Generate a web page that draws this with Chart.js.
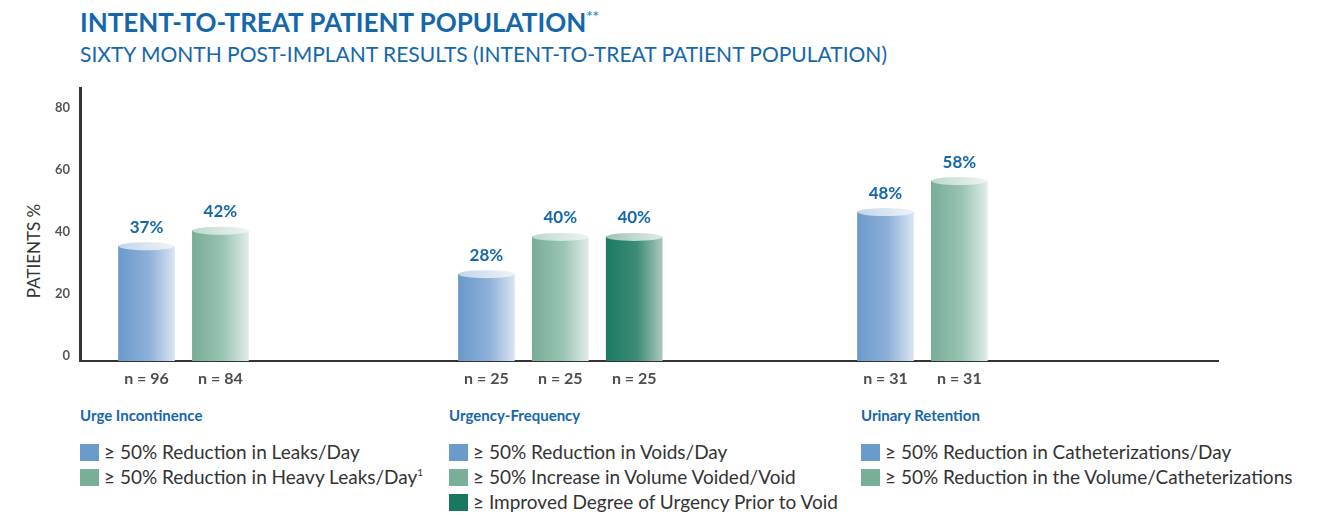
<!DOCTYPE html>
<html>
<head>
<meta charset="utf-8">
<script src="https://cdn.jsdelivr.net/npm/chart.js@4.4.1/dist/chart.umd.min.js"></script>
<style>
  body { margin: 0; background: #fff; font-family: Lato, sans-serif; }
  #wrap { position: relative; width: 1333px; height: 515px; overflow: hidden; }
  #chartBox { position: absolute; left: 0; top: 0; width: 1333px; height: 400px; }
  .title { position: absolute; left: 80px; top: 6px; font-weight: 700; font-size: 26px; color: #1467ab; white-space: nowrap; }
  .title span { font-size: 15px; color: #4f95d0; vertical-align: 10px; font-weight: 700; }
  .subtitle { position: absolute; left: 80px; top: 41px; font-size: 21px; color: #1467ab; white-space: nowrap; }
  .ytitle { position: absolute; left: 33px; top: 251px; transform: translate(-50%, -50%) rotate(-90deg); font-size: 17px; color: #333; white-space: nowrap; }
  .group { position: absolute; top: 404px; }
  .group .head { height: 22px; line-height: 22px; font-size: 15px; font-weight: 700; color: #1467ab; margin-bottom: 15px; white-space: nowrap; }
  .group .row { height: 25px; line-height: 22px; font-size: 19px; color: #333; white-space: nowrap; }
  .group .row sup { font-size: 10px; line-height: 0; vertical-align: 8px; }
  .group .sw { display: inline-block; width: 19px; height: 17px; vertical-align: -2px; margin-right: 5px; }
</style>
</head>
<body>
<div id="wrap">
  <div class="title">INTENT-TO-TREAT PATIENT POPULATION<span>**</span></div>
  <div class="subtitle">SIXTY MONTH POST-IMPLANT RESULTS (INTENT-TO-TREAT PATIENT POPULATION)</div>
  <div class="ytitle">PATIENTS %</div>
  <div id="chartBox"><canvas id="chart"></canvas></div>
  <div id="legends"></div>
</div>
<script>
// data
const groups = ['Urge Incontinence', 'Urgency-Frequency', 'Urinary Retention'];
const measures = [
  '≥ 50% Reduction in Leaks/Day',
  '≥ 50% Reduction in Heavy Leaks/Day',
  '≥ 50% Reduction in Voids/Day',
  '≥ 50% Increase in Volume Voided/Void',
  '≥ Improved Degree of Urgency Prior to Void',
  '≥ 50% Reduction in Catheterizations/Day',
  '≥ 50% Reduction in the Volume/Catheterizations'
];
const groupOf = [0, 0, 1, 1, 1, 2, 2];
const values = [37, 42, 28, 40, 40, 48, 58];
const nLabels = ['n = 96', 'n = 84', 'n = 25', 'n = 25', 'n = 25', 'n = 31', 'n = 31'];
const colorKey = ['blue', 'green', 'blue', 'green', 'dark', 'blue', 'green'];
const yTicks = [0, 20, 40, 60, 80];

// layout (not data)
const SLOTS = 77;
const barSlots = [4, 9, 27, 32, 37, 54, 59];
const groupLeft = [80, 449, 861];

const palette = {
  blue:  { swatch: '#6b9bcb', stops: ['#6a9acb', '#8eb0d9', '#d9e4f2'], cap: ['#c3d5ec', '#eef3f9'] },
  green: { swatch: '#79ae99', stops: ['#77ad97', '#9ac4b3', '#e0ece7'], cap: ['#bcd9cd', '#eef5f2'] },
  dark:  { swatch: '#1a7760', stops: ['#1c7a62', '#3d8c77', '#a9c7bd'], cap: ['#9fc2b6', '#e1ece8'] }
};

const labels = new Array(SLOTS).fill('');
const slotData = new Array(SLOTS).fill(null);
const barOfSlot = {};
barSlots.forEach((s, i) => { labels[s] = nLabels[i]; slotData[s] = values[i]; barOfSlot[s] = i; });

// legend html
const legends = document.getElementById('legends');
groups.forEach((g, gi) => {
  const div = document.createElement('div');
  div.className = 'group';
  div.style.left = groupLeft[gi] + 'px';
  let html = '<div class="head">' + g + '</div>';
  measures.forEach((m, i) => {
    if (groupOf[i] !== gi) return;
    const sup = (i === 1) ? '<sup>1</sup>' : '';
    html += '<div class="row"><span class="sw" style="background:' + palette[colorKey[i]].swatch + '"></span>' + m + sup + '</div>';
  });
  div.innerHTML = html;
  legends.appendChild(div);
});

const BAR_W = 56;

function barFill(ctx) {
  const chart = ctx.chart;
  const bi = barOfSlot[ctx.dataIndex];
  if (bi === undefined) return 'rgba(0,0,0,0)';
  const p = palette[colorKey[bi]];
  const xs = chart.scales.x;
  if (!chart.chartArea || !xs) return p.swatch;
  const cx = xs.getPixelForValue(ctx.dataIndex);
  const g = chart.ctx.createLinearGradient(cx - BAR_W / 2, 0, cx + BAR_W / 2, 0);
  g.addColorStop(0, p.stops[0]);
  g.addColorStop(0.55, p.stops[1]);
  g.addColorStop(1, p.stops[2]);
  return g;
}

const cylinderTops = {
  id: 'cylinderTops',
  afterDatasetsDraw(chart) {
    const c = chart.ctx;
    const meta = chart.getDatasetMeta(0);
    meta.data.forEach((el, idx) => {
      const bi = barOfSlot[idx];
      if (bi === undefined) return;
      const p = palette[colorKey[bi]];
      const rx = el.width / 2, ry = 4;
      const g = c.createLinearGradient(el.x - rx, 0, el.x + rx, 0);
      g.addColorStop(0, p.cap[0]);
      g.addColorStop(1, p.cap[1]);
      c.save();
      c.beginPath();
      c.ellipse(el.x, el.y, rx, ry, 0, 0, Math.PI * 2);
      c.fillStyle = g;
      c.fill();
      c.font = 'bold 17px Lato';
      c.fillStyle = '#1467ab';
      c.textAlign = 'center';
      c.textBaseline = 'middle';
      c.fillText(values[bi] + '%', el.x, el.y - 19);
      c.restore();
    });
  }
};

new Chart(document.getElementById('chart'), {
  type: 'bar',
  data: {
    labels: labels,
    datasets: [{
      data: slotData,
      backgroundColor: barFill,
      borderWidth: 0,
      barThickness: BAR_W
    }]
  },
  options: {
    responsive: true,
    maintainAspectRatio: false,
    animation: false,
    layout: { padding: { left: 20, right: 115, top: 88, bottom: 9 } },
    plugins: { legend: { display: false }, tooltip: { enabled: false } },
    scales: {
      x: {
        grid: { display: false, drawTicks: false },
        border: { color: '#333', width: 2 },
        ticks: { autoSkip: false, maxRotation: 0, padding: 8, color: '#4d4d4d',
                 font: { family: 'Lato', weight: 'bold', size: 16 } },
        afterFit: s => { s.height = 30; }
      },
      y: {
        min: 0, max: 88,
        afterBuildTicks: s => { s.ticks = yTicks.map(v => ({ value: v })); },
        grid: { display: false, drawTicks: false },
        border: { color: '#333', width: 3 },
        ticks: { padding: 10, labelOffset: -5, color: '#555',
                 font: { family: 'Lato', weight: 'bold', size: 13 } },
        afterFit: s => { s.width = 60; }
      }
    }
  },
  plugins: [cylinderTops]
});
</script>
</body>
</html>
